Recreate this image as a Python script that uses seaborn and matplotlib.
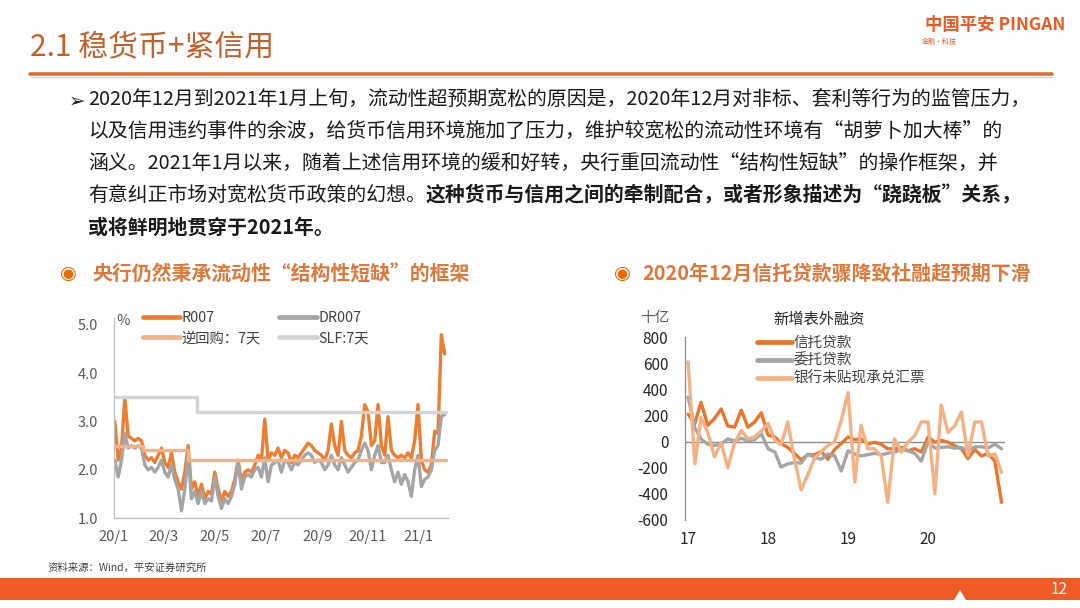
import matplotlib
matplotlib.use("Agg")
import matplotlib.pyplot as plt
from matplotlib.patches import Rectangle, Polygon
from matplotlib.lines import Line2D
import seaborn as sns
import pandas as pd

# ---------------- data ----------------
# Left chart: interbank 7-day repo rates (%), sampled every 4 days from 2020-01-02
r007 = [3.0, 2.2, 2.45, 3.5, 2.7, 2.65, 2.6, 2.65, 2.6, 2.3,
        2.2, 2.25, 2.15, 2.3, 2.45, 2.15, 2.05, 2.35, 1.95, 1.75,
        1.6, 1.95, 2.5, 1.6, 1.75, 1.45, 1.7, 1.4, 1.55, 1.5,
        1.95, 1.6, 1.35, 1.55, 1.45, 1.55, 1.8, 2.2, 1.75, 1.95,
        2.0, 1.95, 2.1, 2.3, 2.2, 3.05, 2.2, 2.35, 2.3, 2.45,
        2.25, 2.4, 2.35, 2.15, 2.3, 2.25, 2.35, 2.45, 2.55, 2.5,
        2.4, 2.35, 2.3, 2.2, 2.4, 2.95, 2.5, 2.3, 3.0, 2.4,
        2.3, 2.25, 2.35, 2.4, 2.7, 3.35, 3.2, 2.5, 2.6, 3.35,
        2.5, 2.3, 3.1, 2.4, 2.3, 2.25, 2.3, 2.25, 2.35, 2.25,
        2.6, 3.35, 2.2, 2.0, 1.95, 2.1, 2.8, 2.75, 4.8, 4.4]
dr007 = [2.2, 1.85, 2.2, 2.75, 2.45, 2.5, 2.45, 2.5, 2.45, 2.1,
         2.0, 2.05, 1.95, 2.05, 2.2, 1.95, 1.85, 2.1, 1.8, 1.6,
         1.15, 1.6, 2.3, 1.4, 1.55, 1.3, 1.55, 1.3, 1.4, 1.35,
         1.85, 1.45, 1.2, 1.4, 1.3, 1.45, 1.7, 2.15, 1.6, 1.85,
         1.9, 1.85, 2.0, 2.05, 1.85, 2.25, 1.75, 2.1, 2.15, 2.2,
         1.95, 2.2, 2.15, 2.0, 2.15, 2.1, 2.2, 2.3, 2.35, 2.3,
         2.15, 2.2, 2.15, 2.0, 2.1, 2.3, 2.1, 2.0, 2.25, 2.1,
         1.95, 2.05, 2.15, 2.2, 2.4, 2.55, 2.4, 2.0, 2.3, 2.5,
         2.15, 2.15, 2.3, 2.0, 1.75, 1.95, 1.7, 1.9, 1.75, 1.45,
         2.0, 2.3, 1.65, 1.8, 1.85, 2.0, 2.4, 2.5, 3.1, 3.15]
rate_start = "2020-01-02"
repo_dates = ["2020-01-02", "2020-02-05", "2020-03-30", "2021-02-02"]
repo_vals = [2.5, 2.4, 2.2, 2.2]
slf_dates = ["2020-01-02", "2020-04-10", "2021-02-02"]
slf_vals = [3.5, 3.2, 3.2]
left_xticks = ["2020-01-01", "2020-03-01", "2020-05-01", "2020-07-01",
               "2020-09-01", "2020-11-01", "2021-01-01"]
left_xlabels = ["20/1", "20/3", "20/5", "20/7", "20/9", "20/11", "21/1"]
left_yticks = [1.0, 2.0, 3.0, 4.0, 5.0]

# Right chart: monthly off-balance-sheet financing (十亿), 2017-01 .. 2020-12
trust = [210, 140, 300, 125, 175, 250, 120, 110, 240, 110,
         150, 220, 50, 35, -15, -45, -90, -140, -100, -100,
         -75, -135, -60, -15, 35, 15, 20, -20, -5, -20,
         -55, -55, -45, -70, -55, -80, 35, -5, 10, -5,
         -30, -55, -130, -60, -110, -90, -150, -465]
entrusted = [340, 105, 20, -20, -30, -20, 20, 5, 25, 5,
             15, 60, -55, -80, -195, -170, -160, -165, -95, -120,
             -135, -95, -110, -225, -70, -95, -110, -100, -90, -100,
             -90, -80, -60, -70, -90, -150, 0, -50, -45, -40,
             -50, -45, -70, -40, -40, -50, -20, -55]
bills = [610, -170, 185, 70, -115, -10, -200, -10, 85, 20,
         35, 80, 140, 10, -25, 150, -130, -370, -255, -125,
         -75, -30, 0, 165, 375, -310, 125, -55, -55, -110,
         -465, 20, -80, -5, 45, 150, 150, -400, 280, 70,
         120, 225, -110, 150, 150, -110, -95, -235]
right_start = "2017-01-01"
right_xticks = ["2017-01-01", "2018-01-01", "2019-01-01", "2020-01-01"]
right_xlabels = ["17", "18", "19", "20"]
right_yticks = [-600, -400, -200, 0, 200, 400, 600, 800]

# ---------------- style ----------------
sns.set_style("white")
plt.rcParams["font.family"] = ["Noto Sans CJK SC", "DejaVu Sans"]
plt.rcParams["axes.unicode_minus"] = False

W, H = 1080, 608
def fx(px):
    return px / W
def fy(py):
    return 1 - py / H

fig = plt.figure(figsize=(10.8, 6.08), dpi=100)
fig.patch.set_facecolor("white")

ORANGE = "#ED7D31"
GRAY = "#A5A5A5"
PEACH = "#F4B183"
LGRAY = "#D4D4D4"

# ---------------- slide header ----------------
fig.text(fx(30), fy(47), "2.1 稳货币+紧信用", fontsize=21.5, color="#C4612B",
         va="center", ha="left")
fig.add_artist(Line2D([fx(30), fx(1052)], [fy(74), fy(74)], color="#D9702E", lw=2.6,
                      transform=fig.transFigure))
fig.add_artist(Line2D([fx(30), fx(1052)], [fy(76.5), fy(76.5)], color="#F3C9AE", lw=0.8,
                      transform=fig.transFigure))
fig.text(fx(1065), fy(25), "中国平安 PINGAN", fontsize=12.5, fontweight="bold",
         color="#F05A22", ha="right", va="center")
fig.text(fx(922), fy(42), "金融·科技", fontsize=5, color="#F05A22", ha="left", va="center")

# ---------------- bullet text ----------------
TXT = "#1A1A1A"
fs = 14.3
fig.text(fx(69), fy(101), "➢", fontsize=14, color=TXT, va="center", ha="left",
         family=["DejaVu Sans"])
lines = [
    "2020年12月到2021年1月上旬，流动性超预期宽松的原因是，2020年12月对非标、套利等行为的监管压力，",
    "以及信用违约事件的余波，给货币信用环境施加了压力，维护较宽松的流动性环境有“胡萝卜加大棒”的",
    "涵义。2021年1月以来，随着上述信用环境的缓和好转，央行重回流动性“结构性短缺”的操作框架，并",
]
for i, ln in enumerate(lines):
    fig.text(fx(88), fy(100 + 31.7 * i), ln, fontsize=fs, color=TXT, va="center", ha="left")
t4 = fig.text(fx(88), fy(195), "有意纠正市场对宽松货币政策的幻想。", fontsize=fs, color=TXT,
              va="center", ha="left")
fig.text(fx(88), fy(227), "或将鲜明地贯穿于2021年。", fontsize=fs, color=TXT,
         va="center", ha="left", fontweight="bold")

# ---------------- section headings ----------------
HEAD = "#E0783A"
fig.text(fx(68), fy(273), "◉", fontsize=14, color="#E46C0A", ha="center", va="center",
         family=["DejaVu Sans"])
fig.text(fx(92), fy(273), "央行仍然秉承流动性“结构性短缺”的框架", fontsize=14.3,
         fontweight="bold", color=HEAD, ha="left", va="center")
fig.text(fx(622), fy(273), "◉", fontsize=14, color="#E46C0A", ha="center", va="center",
         family=["DejaVu Sans"])
fig.text(fx(642), fy(273), "2020年12月信托贷款骤降致社融超预期下滑", fontsize=14.3,
         fontweight="bold", color=HEAD, ha="left", va="center")

# ---------------- left chart ----------------
ax1 = fig.add_axes([fx(114), fy(518), fx(448) - fx(114), (518 - 318) / H])
dates = pd.date_range(rate_start, periods=len(r007), freq="4D")
sns.lineplot(x=dates, y=r007, ax=ax1, color=ORANGE, lw=2.4, label="R007")
sns.lineplot(x=dates, y=dr007, ax=ax1, color=GRAY, lw=2.4, label="DR007")
sns.lineplot(x=pd.to_datetime(repo_dates), y=repo_vals, ax=ax1, color=PEACH, lw=2.4,
             drawstyle="steps-post", label="逆回购：7天")
sns.lineplot(x=pd.to_datetime(slf_dates), y=slf_vals, ax=ax1, color=LGRAY, lw=2.4,
             drawstyle="steps-post", label="SLF:7天")
ax1.set_xlim(pd.Timestamp("2020-01-01"), pd.Timestamp("2021-02-05"))
ax1.set_ylim(1.0, 5.145)
ax1.set_xticks(pd.to_datetime(left_xticks))
ax1.set_xticklabels(left_xlabels)
ax1.set_yticks(left_yticks)
ax1.set_yticklabels([f"{v:.1f}" for v in left_yticks])
ax1.set_xlabel("")
ax1.set_ylabel("")
for s in ["top", "right"]:
    ax1.spines[s].set_visible(False)
for s in ["left", "bottom"]:
    ax1.spines[s].set_color("#BFBFBF")
    ax1.spines[s].set_linewidth(0.9)
ax1.tick_params(axis="both", colors="#BFBFBF", labelcolor="#595959", labelsize=10.5,
                length=2.5, width=0.8, direction="out")
ax1.tick_params(axis="y", pad=9)
ax1.tick_params(axis="x", pad=6)
ax1.set_facecolor("none")
fig.text(fx(116), fy(321), "%", fontsize=10.5, color="#595959", ha="left", va="center")

hmap = {l.get_label(): l for l in ax1.get_lines()}
order = ["R007", "逆回购：7天", "DR007", "SLF:7天"]
handles = [Line2D([], [], color=hmap[k].get_color(), lw=3.4) for k in order]
ax1.legend(handles, order, ncol=2, loc="upper left",
           bbox_to_anchor=(fx(143), fy(311)), bbox_transform=fig.transFigure,
           frameon=False, fontsize=10.3, handlelength=2.6, handletextpad=0.1,
           columnspacing=1.3, labelspacing=0.42, borderpad=0, borderaxespad=0,
           labelcolor="#404040")

# ---------------- right chart ----------------
ax2 = fig.add_axes([fx(685), fy(520), fx(1005) - fx(685), (520 - 337) / H])
months = pd.date_range(right_start, periods=len(trust), freq="MS")
ax2.axhline(0, color="#8C8C8C", lw=1.0, zorder=1)
sns.lineplot(x=months, y=trust, ax=ax2, color="#E8762D", lw=2.4, label="信托贷款")
sns.lineplot(x=months, y=entrusted, ax=ax2, color=GRAY, lw=2.4, label="委托贷款")
sns.lineplot(x=months, y=bills, ax=ax2, color=PEACH, lw=2.4, label="银行未贴现承兑汇票")
ax2.set_xlim(pd.Timestamp("2016-12-18"), pd.Timestamp("2020-12-17"))
ax2.set_ylim(-600, 800)
ax2.set_xticks(pd.to_datetime(right_xticks))
ax2.set_xticklabels(right_xlabels)
ax2.set_yticks(right_yticks)
ax2.set_yticklabels([str(v) for v in right_yticks])
ax2.set_xlabel("")
ax2.set_ylabel("")
for s in ["top", "right", "bottom"]:
    ax2.spines[s].set_visible(False)
ax2.spines["left"].set_color("#8C8C8C")
ax2.spines["left"].set_linewidth(0.9)
ax2.tick_params(axis="y", colors="#8C8C8C", labelcolor="#262626", labelsize=11,
                length=3, width=0.8, direction="in", pad=12)
ax2.tick_params(axis="x", length=0, labelcolor="#262626", labelsize=11, pad=8)
ax2.set_facecolor("none")
fig.text(fx(640), fy(318), "十亿", fontsize=10.5, color="#595959", ha="left", va="center")
fig.text(fx(773), fy(319), "新增表外融资", fontsize=11, color="#262626", ha="left",
         va="center")
h2 = [Line2D([], [], color=l.get_color(), lw=3.4) for l in ax2.get_lines()[1:4]]
ax2.legend(h2, ["信托贷款", "委托贷款", "银行未贴现承兑汇票"], loc="upper left",
           bbox_to_anchor=(fx(757), fy(336)), bbox_transform=fig.transFigure,
           frameon=False, fontsize=10.5, handlelength=2.4, handletextpad=0.1,
           labelspacing=0.25, borderpad=0, borderaxespad=0, labelcolor="#404040")

# ---------------- footer ----------------
fig.text(fx(48), fy(568), "资料来源：Wind，平安证券研究所", fontsize=7.5, color="#404040",
         ha="left", va="center")
fig.add_artist(Rectangle((0, fy(600)), 1, (600 - 578) / H, transform=fig.transFigure,
                         facecolor="#EE5B24", edgecolor="none"))
fig.add_artist(Polygon([[fx(954), fy(600)], [fx(960), fy(590)], [fx(966), fy(600)]],
                       closed=True, transform=fig.transFigure, facecolor="white",
                       edgecolor="none"))
fig.text(fx(1068), fy(589), "12", fontsize=11, color="white", ha="right", va="center")

# bold part of line 4, placed right after the normal part
ax1.annotate("这种货币与信用之间的牵制配合，或者形象描述为“跷跷板”关系，",
             xy=(1, 0.5), xycoords=t4, va="center", ha="left", fontsize=fs,
             fontweight="bold", color=TXT, annotation_clip=False)

fig.savefig("out.png", dpi=100, facecolor="white")
